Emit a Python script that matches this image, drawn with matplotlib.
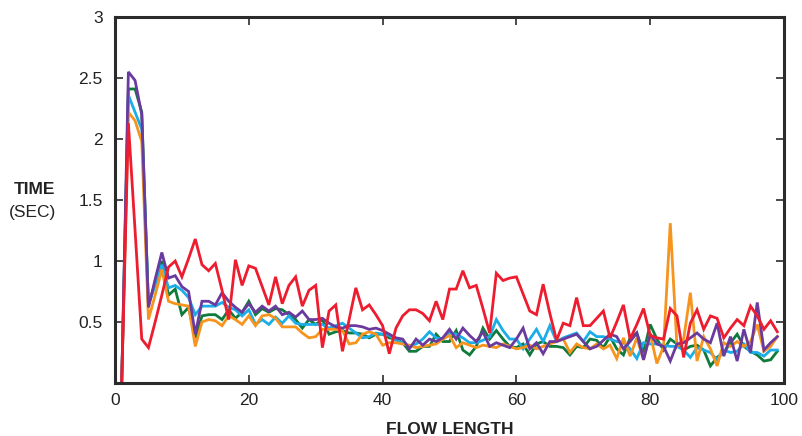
import matplotlib
matplotlib.use("Agg")
import matplotlib.pyplot as plt

flow_length = list(range(1, 100))

orange = [0.0, 2.22, 2.15, 1.98, 0.52, 0.72, 0.93, 0.67, 0.65, 0.64,
          0.63, 0.30, 0.50, 0.52, 0.51, 0.47, 0.55, 0.52, 0.48, 0.55,
          0.47, 0.55, 0.56, 0.53, 0.46, 0.46, 0.46, 0.41, 0.37, 0.38,
          0.44, 0.44, 0.44, 0.43, 0.32, 0.33, 0.40, 0.42, 0.40, 0.31,
          0.33, 0.33, 0.32, 0.31, 0.29, 0.30, 0.31, 0.32, 0.36, 0.39,
          0.29, 0.33, 0.31, 0.29, 0.31, 0.30, 0.29, 0.32, 0.30, 0.28,
          0.29, 0.31, 0.28, 0.30, 0.32, 0.34, 0.36, 0.25, 0.32, 0.29,
          0.28, 0.32, 0.28, 0.31, 0.20, 0.37, 0.22, 0.37, 0.19, 0.40,
          0.16, 0.30, 1.31, 0.30, 0.36, 0.74, 0.18, 0.38, 0.28, 0.14,
          0.33, 0.30, 0.34, 0.30, 0.34, 0.48, 0.26, 0.30, 0.38]

green = [0.0, 2.41, 2.41, 2.22, 0.64, 0.82, 1.00, 0.72, 0.77, 0.56,
         0.62, 0.37, 0.55, 0.56, 0.56, 0.52, 0.60, 0.53, 0.58, 0.67,
         0.56, 0.61, 0.58, 0.61, 0.60, 0.56, 0.52, 0.45, 0.52, 0.48,
         0.52, 0.40, 0.42, 0.43, 0.41, 0.41, 0.40, 0.37, 0.40, 0.40,
         0.37, 0.36, 0.33, 0.26, 0.26, 0.30, 0.30, 0.40, 0.34, 0.34,
         0.43, 0.27, 0.23, 0.30, 0.45, 0.36, 0.43, 0.36, 0.30, 0.29,
         0.32, 0.23, 0.32, 0.34, 0.30, 0.30, 0.29, 0.23, 0.30, 0.29,
         0.36, 0.35, 0.29, 0.38, 0.28, 0.23, 0.37, 0.41, 0.25, 0.48,
         0.36, 0.27, 0.36, 0.32, 0.27, 0.30, 0.31, 0.27, 0.14, 0.21,
         0.25, 0.33, 0.40, 0.30, 0.26, 0.23, 0.18, 0.19, 0.26]

blue = [0.0, 2.36, 2.22, 2.08, 0.64, 0.80, 0.97, 0.78, 0.80, 0.76,
        0.70, 0.56, 0.63, 0.63, 0.63, 0.66, 0.62, 0.60, 0.55, 0.60,
        0.48, 0.52, 0.48, 0.54, 0.49, 0.55, 0.49, 0.48, 0.48, 0.48,
        0.48, 0.45, 0.47, 0.49, 0.45, 0.41, 0.37, 0.38, 0.41, 0.40,
        0.39, 0.35, 0.33, 0.30, 0.32, 0.36, 0.42, 0.37, 0.36, 0.41,
        0.40, 0.37, 0.33, 0.33, 0.35, 0.38, 0.52, 0.43, 0.36, 0.36,
        0.28, 0.36, 0.44, 0.34, 0.47, 0.34, 0.37, 0.39, 0.41, 0.34,
        0.42, 0.38, 0.38, 0.36, 0.34, 0.33, 0.28, 0.20, 0.33, 0.32,
        0.32, 0.31, 0.30, 0.30, 0.27, 0.21, 0.29, 0.27, 0.25, 0.19,
        0.27, 0.25, 0.26, 0.32, 0.25, 0.25, 0.22, 0.27, 0.27]

purple = [0.0, 2.55, 2.48, 2.20, 0.62, 0.85, 1.07, 0.86, 0.88, 0.79,
          0.75, 0.40, 0.67, 0.67, 0.64, 0.74, 0.67, 0.62, 0.58, 0.65,
          0.58, 0.63, 0.59, 0.63, 0.56, 0.58, 0.54, 0.59, 0.52, 0.52,
          0.53, 0.49, 0.46, 0.45, 0.47, 0.47, 0.46, 0.44, 0.45, 0.43,
          0.40, 0.37, 0.36, 0.28, 0.36, 0.31, 0.36, 0.34, 0.37, 0.44,
          0.36, 0.45, 0.39, 0.34, 0.42, 0.30, 0.33, 0.31, 0.29, 0.36,
          0.45, 0.28, 0.33, 0.24, 0.34, 0.34, 0.36, 0.38, 0.40, 0.34,
          0.28, 0.30, 0.35, 0.40, 0.38, 0.28, 0.34, 0.41, 0.19, 0.40,
          0.32, 0.30, 0.18, 0.32, 0.33, 0.37, 0.41, 0.36, 0.33, 0.49,
          0.22, 0.38, 0.18, 0.44, 0.25, 0.66, 0.27, 0.33, 0.38]

red = [0.0, 2.13, 1.25, 0.36, 0.29, 0.50, 0.72, 0.95, 1.00, 0.87,
       1.02, 1.18, 0.97, 0.92, 0.98, 0.76, 0.52, 1.01, 0.80, 0.96,
       0.94, 0.79, 0.64, 0.87, 0.65, 0.80, 0.87, 0.63, 0.76, 0.80,
       0.29, 0.59, 0.64, 0.26, 0.52, 0.78, 0.60, 0.64, 0.56, 0.47,
       0.24, 0.45, 0.55, 0.60, 0.60, 0.57, 0.51, 0.67, 0.52, 0.77,
       0.77, 0.92, 0.78, 0.80, 0.61, 0.41, 0.90, 0.84, 0.86, 0.87,
       0.73, 0.59, 0.56, 0.81, 0.57, 0.35, 0.49, 0.47, 0.70, 0.47,
       0.47, 0.53, 0.59, 0.37, 0.50, 0.64, 0.36, 0.48, 0.61, 0.39,
       0.37, 0.36, 0.61, 0.55, 0.21, 0.49, 0.60, 0.44, 0.55, 0.53,
       0.37, 0.45, 0.52, 0.47, 0.63, 0.55, 0.44, 0.51, 0.42]

x_ticks = [0, 20, 40, 60, 80, 100]
y_ticks = [0.5, 1, 1.5, 2, 2.5, 3]
y_tick_labels = ["0.5", "1", "1.5", "2", "2.5", "3"]

series = [
    (green, "#0E7A3B"),
    (blue, "#1BADE8"),
    (orange, "#F7941D"),
    (purple, "#6B3A9E"),
    (red, "#ED1C2E"),
]

plt.rcParams['font.family'] = ['Liberation Sans', 'DejaVu Sans']

fig = plt.figure(figsize=(8.02, 4.36), dpi=100)
ax = fig.add_axes([115 / 802, 1 - 383 / 436, (784 - 115) / 802, (383 - 17) / 436])

for vals, col in series:
    ax.plot(flow_length, vals, color=col, lw=2.0, solid_joinstyle='miter')

ax.set_xlim(0, 100)
ax.set_ylim(0, 3)
ax.set_xticks(x_ticks)
ax.set_yticks(y_ticks)
ax.set_yticklabels(y_tick_labels)

edge = "#2b2b2b"
for s in ax.spines.values():
    s.set_linewidth(2.2)
    s.set_color(edge)
ax.tick_params(direction='in', length=6, width=1.2, color=edge,
               top=True, right=True, labelsize=12.5, labelcolor="#222222")
ax.tick_params(axis='x', pad=7)
ax.tick_params(axis='y', pad=9)

ax.set_xlabel("FLOW LENGTH", fontsize=12.5, fontweight='bold', color="#222222", labelpad=10)

fig.text(34 / 802, 1 - 190 / 436, "TIME", fontsize=12.5, fontweight='bold',
         ha='center', va='center', color="#222222")
fig.text(33 / 802, 1 - 212 / 436, "(SEC)", fontsize=12.5,
         ha='center', va='center', color="#222222")

fig.savefig("out.png", dpi=100)
